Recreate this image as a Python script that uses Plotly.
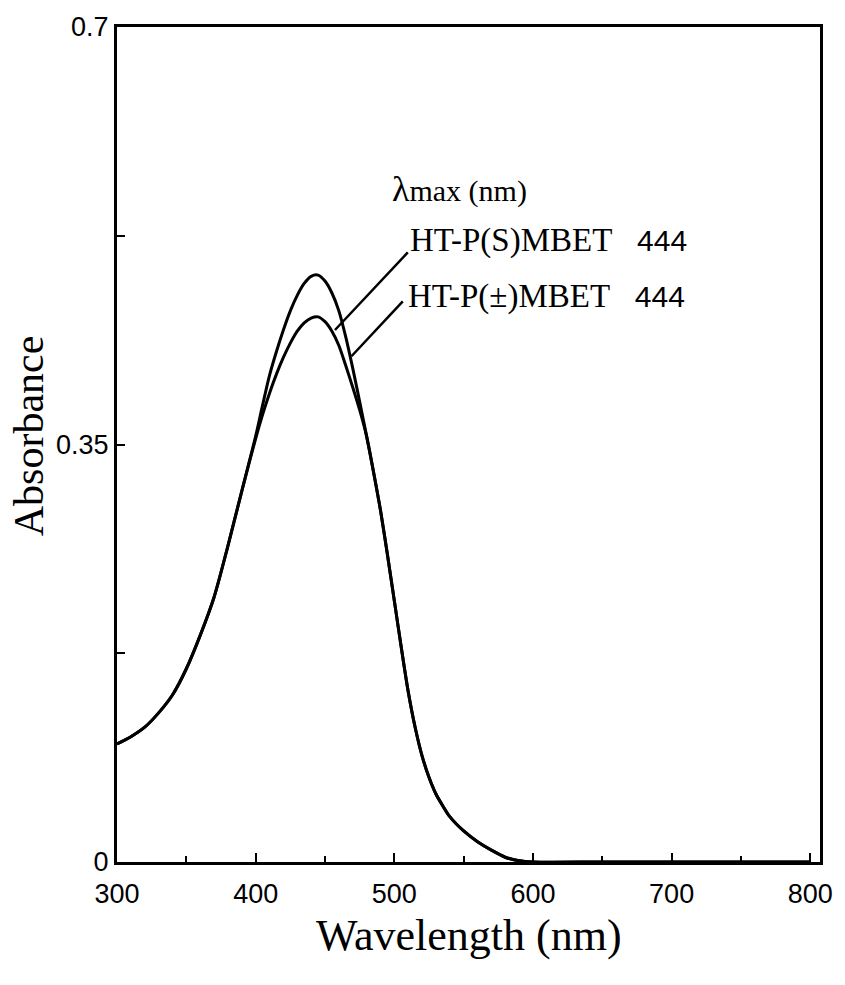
import plotly.graph_objects as go

# ---- data ----
wavelength = [300, 310, 320, 330, 340, 350, 360, 370, 380, 390, 400, 405, 410, 415, 420,
              425, 430, 435, 440, 445, 450, 455, 460, 465, 470, 475, 480, 485, 490, 495,
              500, 505, 510, 515, 520, 525, 530, 535, 540, 550, 560, 570, 580, 590, 600,
              650, 700, 750, 800]

abs_high = [0.099, 0.105, 0.113, 0.125, 0.140, 0.162, 0.190, 0.222, 0.265, 0.311, 0.357,
            0.383, 0.408, 0.428, 0.446, 0.462, 0.475, 0.485, 0.491, 0.492, 0.487, 0.477,
            0.462, 0.440, 0.414, 0.386, 0.357, 0.327, 0.295, 0.258, 0.219, 0.180, 0.143,
            0.113, 0.089, 0.071, 0.057, 0.047, 0.038, 0.026, 0.017, 0.010, 0.004, 0.001,
            0.0, 0.0, 0.0, 0.0, 0.0]

abs_low = [0.099, 0.105, 0.113, 0.125, 0.140, 0.162, 0.190, 0.222, 0.265, 0.311, 0.355,
           0.375, 0.393, 0.409, 0.423, 0.435, 0.445, 0.452, 0.456, 0.457, 0.453, 0.445,
           0.433, 0.416, 0.398, 0.379, 0.357, 0.327, 0.295, 0.258, 0.219, 0.180, 0.143,
           0.113, 0.089, 0.071, 0.057, 0.047, 0.038, 0.026, 0.017, 0.010, 0.004, 0.001,
           0.0, 0.0, 0.0, 0.0, 0.0]

series_names = ["HT-P(S)MBET", "HT-P(±)MBET"]
lambda_max = ["444", "444"]

x_tickvals = [300, 400, 500, 600, 700, 800]
y_tickvals = [0, 0.175, 0.35, 0.525, 0.7]
y_ticktext = ["0", "", "0.35", "", "0.7"]

# label anchor positions (data coords) and leader line ends
header_pos = (496.8, 0.564)
label_pos = [(509.7, 0.521), (508.2, 0.474)]
leader_start = [(509.7, 0.511), (506.1, 0.470)]
leader_end = [(457.2, 0.446), (469.1, 0.424)]

SERIF = "Liberation Serif, Times New Roman, serif"
SANS = "Liberation Sans, Arial, sans-serif"

fig = go.Figure()
fig.add_trace(go.Scatter(x=wavelength, y=abs_high, mode="lines", name=series_names[1],
                         line=dict(color="black", width=3, shape="spline", smoothing=0.8)))
fig.add_trace(go.Scatter(x=wavelength, y=abs_low, mode="lines", name=series_names[0],
                         line=dict(color="black", width=3, shape="spline", smoothing=0.8)))

for (x0, y0), (x1, y1) in zip(leader_start, leader_end):
    fig.add_shape(type="line", xref="x", yref="y", x0=x0, y0=y0, x1=x1, y1=y1,
                  line=dict(color="black", width=2.5))

fig.add_annotation(x=header_pos[0], y=header_pos[1], xref="x", yref="y",
                   text="<span style='font-size:36px'>λ</span>max (nm)", showarrow=False,
                   xanchor="left", yanchor="middle",
                   font=dict(family=SERIF, size=30, color="black"))
for name, val, (lx, ly) in zip(series_names, lambda_max, label_pos):
    fig.add_annotation(x=lx, y=ly, xref="x", yref="y",
                       text=name + "\u00a0\u00a0\u00a0<span style='font-family:Liberation Sans;font-size:30px'>" + val + "</span>",
                       showarrow=False, xanchor="left", yanchor="middle",
                       font=dict(family=SERIF, size=33, color="black"))

fig.add_annotation(x=0.5, y=-0.056, xref="paper", yref="paper", yanchor="top",
                   text="Wavelength (nm)", showarrow=False,
                   font=dict(family=SERIF, size=44, color="black"))
fig.add_annotation(x=-0.125, y=0.51, xref="paper", yref="paper", textangle=-90,
                   text="Absorbance", showarrow=False, xanchor="center", yanchor="middle",
                   font=dict(family=SERIF, size=42, color="black"))

fig.update_xaxes(range=[300, 807], tickvals=x_tickvals, ticks="inside", ticklen=9,
                 tickwidth=2, tickcolor="black",
                 minor=dict(dtick=50, tick0=300, ticks="inside", ticklen=6, tickwidth=2, tickcolor="black"),
                 showline=True, linecolor="black", linewidth=3, mirror=True,
                 showgrid=False, zeroline=False, ticklabelstandoff=6,
                 tickfont=dict(family=SANS, size=27, color="black"))
fig.update_yaxes(range=[0, 0.7], tickvals=y_tickvals, ticktext=y_ticktext,
                 ticks="inside", ticklen=8, tickwidth=2, tickcolor="black",
                 showline=True, linecolor="black", linewidth=3, mirror=True,
                 showgrid=False, zeroline=False, ticklabeloverflow="allow",
                 tickfont=dict(family=SANS, size=27, color="black"))

fig.update_layout(width=845, height=985, margin=dict(l=117, r=19, t=20, b=123),
                  plot_bgcolor="white", paper_bgcolor="white", showlegend=False)

fig.write_html("out.html")
